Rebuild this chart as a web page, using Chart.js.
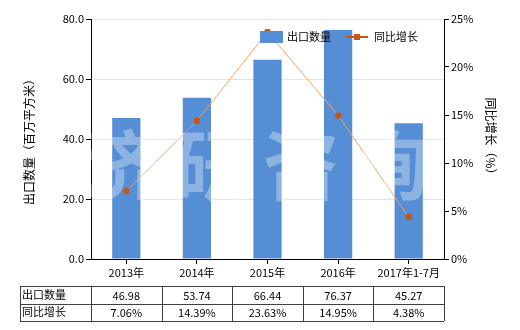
<!DOCTYPE html>
<html>
<head>
<meta charset="utf-8">
<script src="https://cdn.jsdelivr.net/npm/chart.js@4.4.1/dist/chart.umd.min.js"></script>
<style>
  body { margin: 0; background: #fff; }
</style>
</head>
<body>
<canvas id="exportChart" width="520" height="330"></canvas>
<script>
const years = ['2013年', '2014年', '2015年', '2016年', '2017年1-7月'];
const exportQty = [46.98, 53.74, 66.44, 76.37, 45.27];
const yoyGrowth = [7.06, 14.39, 23.63, 14.95, 4.38];
const qtyName = '出口数量';
const growthName = '同比增长';

const FONT = '"Noto Sans CJK SC", "Noto Sans", sans-serif';
const BAR_COLOR = '#558ED5';
const LINE_COLOR = '#F3A25A';
const POINT_COLOR = '#C4561A';

// faint watermark over the bars
const watermark = {
    id: 'watermark',
    afterDatasetsDraw(chart) {
        const ctx = chart.ctx;
        const a = chart.chartArea;
        ctx.save();
        ctx.fillStyle = 'rgba(255,255,255,0.33)';
        ctx.font = 'bold 76px ' + FONT;
        ctx.textAlign = 'center';
        ctx.textBaseline = 'middle';
        ['济', '研', '咨', '询'].forEach((ch, i) => {
            ctx.fillText(ch, a.left + 30 + i * 90, a.top + 146);
        });
        ctx.restore();
    }
};

// legend drawn inside the plot area
const innerLegend = {
    id: 'innerLegend',
    afterDatasetsDraw(chart) {
        const ctx = chart.ctx;
        const a = chart.chartArea;
        const x0 = a.left + 169;
        const y0 = a.top + 18;
        ctx.save();
        ctx.fillStyle = BAR_COLOR;
        ctx.fillRect(x0, y0 - 6, 23, 12);
        ctx.font = '11px ' + FONT;
        ctx.fillStyle = '#000';
        ctx.textBaseline = 'middle';
        ctx.fillText(qtyName, x0 + 27, y0);
        const lx = x0 + 86;
        ctx.strokeStyle = POINT_COLOR;
        ctx.lineWidth = 2;
        ctx.beginPath();
        ctx.moveTo(lx, y0);
        ctx.lineTo(lx + 22, y0);
        ctx.stroke();
        ctx.fillStyle = POINT_COLOR;
        ctx.fillRect(lx + 8, y0 - 3, 6, 6);
        ctx.fillStyle = '#000';
        ctx.fillText(growthName, lx + 28, y0);
        ctx.restore();
    }
};

// data table under the x axis
const dataTable = {
    id: 'dataTable',
    afterDraw(chart) {
        const ctx = chart.ctx;
        const a = chart.chartArea;
        const xs = chart.scales.x;
        const left = 20;
        const top = 286;
        const rowH = 17.5;
        const step = (a.right - a.left) / years.length;
        ctx.save();
        ctx.strokeStyle = '#404040';
        ctx.lineWidth = 1;
        ctx.beginPath();
        for (let r = 0; r <= 2; r++) {
            const y = Math.round(top + r * rowH) + 0.5;
            ctx.moveTo(left, y);
            ctx.lineTo(a.right, y);
        }
        const cols = [left, a.left];
        for (let i = 1; i <= years.length; i++) cols.push(a.left + i * step);
        cols.forEach(x => {
            const px = Math.round(x) + 0.5;
            ctx.moveTo(px, top);
            ctx.lineTo(px, top + 2 * rowH);
        });
        ctx.stroke();

        ctx.font = '11px ' + FONT;
        ctx.fillStyle = '#000';
        ctx.textBaseline = 'middle';
        ctx.textAlign = 'left';
        ctx.fillText(qtyName, left + 2, top + rowH / 2);
        ctx.fillText(growthName, left + 2, top + rowH * 1.5);
        ctx.textAlign = 'center';
        years.forEach((y, i) => {
            const cx = xs.getPixelForValue(i);
            ctx.fillText(exportQty[i].toFixed(2), cx, top + rowH / 2 + 1);
            ctx.fillText(yoyGrowth[i].toFixed(2) + '%', cx, top + rowH * 1.5 + 1);
        });
        ctx.restore();
    }
};

new Chart(document.getElementById('exportChart').getContext('2d'), {
    type: 'bar',
    data: {
        labels: years,
        datasets: [{
            label: growthName,
            type: 'line',
            data: yoyGrowth,
            yAxisID: 'y1',
            borderColor: LINE_COLOR,
            borderWidth: 1,
            pointStyle: 'rect',
            pointRadius: 3.5,
            pointBackgroundColor: POINT_COLOR,
            pointBorderColor: POINT_COLOR,
            tension: 0,
            order: 1
        }, {
            label: qtyName,
            data: exportQty,
            yAxisID: 'y',
            backgroundColor: BAR_COLOR,
            barPercentage: 0.4,
            categoryPercentage: 1,
            order: 2
        }]
    },
    options: {
        responsive: false,
        animation: false,
        layout: {
            padding: { top: 19, left: 0, right: 0, bottom: 0 }
        },
        plugins: {
            legend: { display: false },
            tooltip: { enabled: false }
        },
        scales: {
            x: {
                grid: {
                    drawOnChartArea: false,
                    offset: false,
                    tickLength: 5,
                    tickColor: '#000'
                },
                border: { color: '#000' },
                ticks: {
                    color: '#000',
                    font: { family: FONT, size: 11 },
                    maxRotation: 0,
                    padding: 2
                },
                afterFit: s => { s.height = 71; }
            },
            y: {
                position: 'left',
                min: 0,
                max: 80,
                ticks: {
                    stepSize: 20,
                    color: '#000',
                    padding: 2,
                    font: { family: FONT, size: 11 },
                    callback: v => v.toFixed(1)
                },
                grid: {
                    color: '#E6E4DA',
                    tickColor: '#000',
                    tickLength: 5
                },
                border: { color: '#000' },
                title: {
                    display: true,
                    text: '出口数量（百万平方米）',
                    color: '#000',
                    font: { family: FONT, size: 12 },
                    padding: { top: 22, bottom: 0 }
                },
                afterFit: s => { s.width = 91; }
            },
            y1: {
                position: 'right',
                min: 0,
                max: 25,
                ticks: {
                    stepSize: 5,
                    color: '#000',
                    padding: 2,
                    font: { family: FONT, size: 11 },
                    callback: v => v + '%'
                },
                grid: {
                    drawOnChartArea: false,
                    tickColor: '#000',
                    tickLength: 5
                },
                border: { color: '#000' },
                title: {
                    display: true,
                    text: '同比增长（%）',
                    color: '#000',
                    font: { family: FONT, size: 12 },
                    padding: { top: 22, bottom: 0 }
                },
                afterFit: s => { s.width = 76; }
            }
        }
    },
    plugins: [watermark, innerLegend, dataTable]
});
</script>
</body>
</html>
